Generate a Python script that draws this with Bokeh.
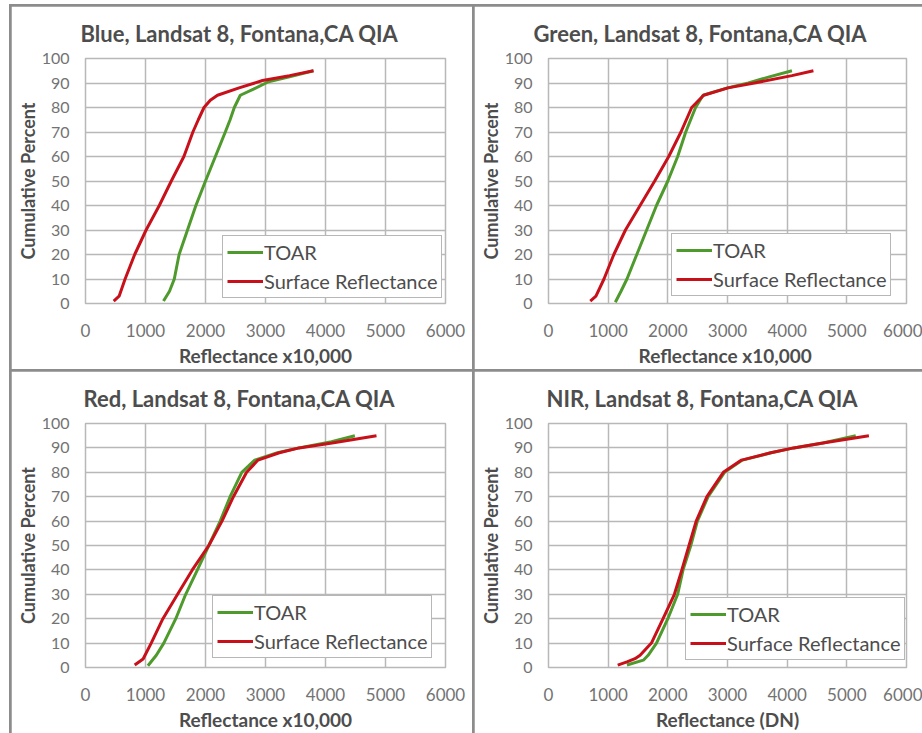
from bokeh.plotting import figure
from bokeh.models import Legend, LegendItem, GridBox, Range1d, FixedTicker
from bokeh.embed import file_html
from bokeh.resources import INLINE

# ---------------- data ----------------
titles = ["Blue, Landsat 8, Fontana,CA QIA", "Green, Landsat 8, Fontana,CA QIA",
          "Red, Landsat 8, Fontana,CA QIA", "NIR, Landsat 8, Fontana,CA QIA"]
x_labels = ["Reflectance x10,000", "Reflectance  x10,000", "Reflectance x10,000", "Reflectance (DN)"]
y_label = "Cumulative Percent"
series_names = ["TOAR", "Surface Reflectance"]
x_ticks = [0, 1000, 2000, 3000, 4000, 5000, 6000]
y_ticks = [0, 10, 20, 30, 40, 50, 60, 70, 80, 90, 100]

toar_blue_x = [1300, 1400, 1480, 1560, 1700, 1840, 2000, 2165, 2330, 2410, 2480, 2580, 2800, 3050, 3400, 3800]
toar_blue_y = [1, 5, 10, 20, 30, 40, 50, 60, 70, 75, 80, 85, 87.5, 90.5, 92.5, 95]
sr_blue_x = [470, 560, 660, 820, 1010, 1230, 1430, 1640, 1790, 1880, 1975, 2080, 2200, 2560, 2950, 3400, 3800]
sr_blue_y = [1, 3, 10, 20, 30, 40, 50, 60, 70, 75, 80, 83, 85, 88, 91, 93, 95]

toar_green_x = [1120, 1215, 1315, 1480, 1645, 1810, 2000, 2165, 2300, 2465, 2590, 3000, 3350, 3700, 4080]
toar_green_y = [0.5, 5, 10, 20, 30, 40, 50, 60, 70, 80, 85, 88, 90, 92.5, 95]
sr_green_x = [700, 795, 930, 1095, 1290, 1535, 1780, 2015, 2220, 2400, 2600, 3010, 3450, 4080, 4440]
sr_green_y = [1, 3, 10, 20, 30, 40, 50, 60, 70, 80, 85, 88, 90, 93, 95]

toar_red_x = [1040, 1180, 1305, 1505, 1670, 1865, 2055, 2245, 2410, 2605, 2820, 3200, 3560, 4100, 4490]
toar_red_y = [0.7, 5, 10, 20, 30, 40, 50, 60, 70, 80, 85, 88, 90, 92.5, 95]
sr_red_x = [820, 960, 1095, 1290, 1535, 1780, 2055, 2275, 2465, 2685, 2875, 3230, 3560, 4110, 4850]
sr_red_y = [1, 3.5, 10, 20, 30, 40, 50, 60, 70, 80, 85, 88, 90, 92, 95]

toar_nir_x = [1315, 1590, 1670, 1810, 2000, 2165, 2255, 2385, 2495, 2675, 2950, 3250, 3730, 4110, 4600, 5150]
toar_nir_y = [1, 3, 5, 10, 20, 30, 40, 50, 60, 70, 80, 85, 88, 90, 92, 95]
sr_nir_x = [1160, 1315, 1450, 1535, 1725, 1920, 2110, 2235, 2355, 2475, 2655, 2930, 3235, 3725, 4110, 4600, 5370]
sr_nir_y = [1, 2.3, 3.6, 5, 10, 20, 30, 40, 50, 60, 70, 80, 85, 88, 90, 92, 95]

# ---------------- styling ----------------
FONT = "Lato"
GREEN = "#4f9a2c"
RED = "#c8101a"
GRID = "#b8b8b8"
TEXT = "#4d4d4d"
TICK = "#737373"


def make_panel(title, xlabel, tx, ty, sx, sy, width, height, ml, mr, mt, mb, toff, leg_loc):
    p = figure(width=width, height=height, x_range=Range1d(0, 6000), y_range=Range1d(0, 100),
               output_backend="svg", toolbar_location=None,
               min_border_left=ml, min_border_right=mr, min_border_top=mt, min_border_bottom=mb)
    p.background_fill_color = "white"
    p.border_fill_color = "white"
    p.outline_line_color = GRID
    p.outline_line_width = 1.5

    p.title.text = title
    p.title.align = "left"
    p.title.offset = toff
    p.title.text_font = FONT
    p.title.text_font_size = "22px"
    p.title.text_font_style = "bold"
    p.title.text_color = TEXT
    p.title.standoff = 23

    for ax, ticks in ((p.xaxis[0], x_ticks), (p.yaxis[0], y_ticks)):
        ax.ticker = FixedTicker(ticks=ticks)
        ax.axis_line_color = None
        ax.major_tick_line_color = None
        ax.minor_tick_line_color = None
        ax.major_label_text_font = FONT
        ax.major_label_text_color = TICK
        ax.axis_label_text_font = FONT
        ax.axis_label_text_font_style = "bold"
        ax.axis_label_text_color = TEXT
    p.xaxis.major_label_text_font_size = "17px"
    p.yaxis.major_label_text_font_size = "16px"
    p.xaxis.axis_label_text_font_size = "19px"
    p.yaxis.axis_label_text_font_size = "18px"
    p.xaxis.axis_label = xlabel
    p.yaxis.axis_label = y_label
    p.xaxis.major_label_standoff = 14
    p.xaxis.axis_label_standoff = 4
    p.yaxis.major_label_standoff = 10
    p.yaxis.axis_label_standoff = 0

    p.xgrid.ticker = FixedTicker(ticks=x_ticks)
    p.ygrid.ticker = FixedTicker(ticks=y_ticks)
    for g in (p.xgrid[0], p.ygrid[0]):
        g.grid_line_color = GRID
        g.grid_line_width = 1.5

    r1 = p.line(tx, ty, line_color=GREEN, line_width=3)
    r2 = p.line(sx, sy, line_color=RED, line_width=3)

    leg = Legend(items=[LegendItem(label=series_names[0], renderers=[r1]),
                        LegendItem(label=series_names[1], renderers=[r2])],
                 location=leg_loc)
    leg.label_text_font = FONT
    leg.label_text_font_size = "20px"
    leg.label_text_color = TEXT
    leg.label_standoff = 1
    leg.glyph_width = 36
    leg.label_height = 22
    leg.glyph_height = 22
    leg.spacing = 5
    leg.padding = 4
    leg.margin = 0
    leg.border_line_color = "#707070"
    leg.border_line_width = 1.5
    leg.background_fill_color = "white"
    leg.background_fill_alpha = 1
    p.add_layout(leg, "center")
    return p


p1 = make_panel(titles[0], x_labels[0], toar_blue_x, toar_blue_y, sr_blue_x, sr_blue_y,
                461, 363, 74, 27, 52, 64, -5, (137, 5))
p2 = make_panel(titles[1], x_labels[1], toar_green_x, toar_green_y, sr_green_x, sr_green_y,
                448, 363, 74, 16, 52, 64, -15, (123, 7))
p3 = make_panel(titles[2], x_labels[2], toar_red_x, toar_red_y, sr_red_x, sr_red_y,
                461, 362, 74, 27, 52, 63, -2, (127, 9))
p4 = make_panel(titles[3], x_labels[3], toar_nir_x, toar_nir_y, sr_nir_x, sr_nir_y,
                448, 362, 74, 16, 52, 63, -2, (137, 7))

grid = GridBox(children=[(p1, 0, 0), (p2, 0, 1), (p3, 1, 0), (p4, 1, 1)], spacing=2,
               styles={"background-color": "#8c8c8c", "padding-top": "2px", "padding-left": "2px",
                       "margin-top": "4px", "margin-left": "9px"})

open("out.html", "w").write(file_html(grid, INLINE))
